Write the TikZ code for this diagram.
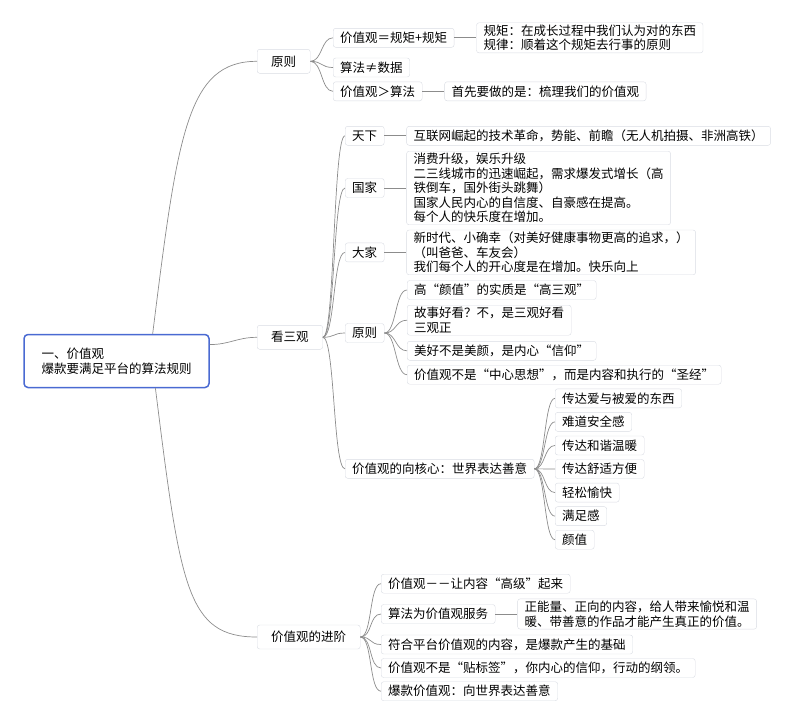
\documentclass[tikz,border=0pt]{standalone}
\usepackage{fontspec}
\usepackage{tikz}
\usetikzlibrary{positioning}
\newfontfamily\cjk{Noto Sans CJK SC}
\definecolor{boxgray}{HTML}{D9DCE3}
\definecolor{rootblue}{HTML}{4A6AD2}
\definecolor{linegray}{HTML}{8C8C8C}
\tikzset{
  topic/.style={draw=boxgray,fill=white,rounded corners=2.5pt,
    font=\cjk\fontsize{12.5}{14.5}\selectfont,
    inner xsep=7pt,inner ysep=2pt,minimum height=19pt,anchor=west},
  maintopic/.style={topic,inner xsep=14pt,minimum height=24pt},
  note/.style={topic,align=left},
  central/.style={topic,draw=rootblue,line width=1.5pt,rounded corners=4pt,
    align=left,minimum width=185pt,minimum height=53pt,anchor=center},
  branch/.style={draw=linegray,line width=0.7pt},
  fan/.style={to path={.. controls +(#1,0) and +(-#1,0) .. (\tikztotarget)}},
  fan/.default=12
}

\begin{document}
\begin{tikzpicture}[x=1pt,y=-1pt,node distance=22pt]
  \useasboundingbox (0,0) rectangle (800,721);
  \node[central] (root) at (116.5,361) {一、价值观\\爆款要满足平台的算法规则};
  \node[maintopic] (yz)  at (257,61.3) {原则};
  \node[maintopic] (ksg) at (257,337.3) {看三观};
  \node[maintopic] (jj)  at (257,637) {价值观的进阶};

  \node[topic] (a1) at (333,37.8) {价值观＝规矩+规矩};
  \node[topic] (a2) at (333,67.5) {算法≠数据};
  \node[topic] (a3) at (333,91.3) {价值观＞算法};
  \node[note] (a1n) [right=of a1] {规矩：在成长过程中我们认为对的东西\\规律：顺着这个规矩去行事的原则};
  \node[note] (a3n) [right=of a3] {首先要做的是：梳理我们的价值观};

  \node[topic] (b1) at (345,135.8) {天下};
  \node[topic] (b2) at (345,188) {国家};
  \node[topic] (b3) at (345,252.4) {大家};
  \node[topic] (b4) at (345,333) {原则};
  \node[topic] (b5) at (345,468.8) {价值观的向核心：世界表达善意};
  \node[note] (b1n) [right=of b1] {互联网崛起的技术革命，势能、前瞻（无人机拍摄、非洲高铁）};
  \node[note] (b2n) [right=of b2] {消费升级，娱乐升级\\二三线城市的迅速崛起，需求爆发式增长（高\\铁倒车，国外街头跳舞）\\国家人民内心的自信度、自豪感在提高。\\每个人的快乐度在增加。};
  \node[note] (b3n) [right=of b3] {新时代、小确幸（对美好健康事物更高的追求，）\\（叫爸爸、车友会）\\我们每个人的开心度是在增加。快乐向上};

  \node[topic] (c1) at (407,290) {高“颜值”的实质是“高三观”};
  \node[note]  (c2) at (407,320.2) {故事好看？不，是三观好看\\三观正};
  \node[topic] (c3) at (407,350.8) {美好不是美颜，是内心“信仰”};
  \node[topic] (c4) at (407,374.7) {价值观不是“中心思想”，而是内容和执行的“圣经”};

  \foreach \txt [count=\i] in {传达爱与被爱的东西,难道安全感,传达和谐温暖,传达舒适方便,轻松愉快,满足感,颜值}
    \node[topic] (d\i) at (555,{398.3+23.57*(\i-1)}) {\txt};

  \node[topic] (e1) at (381,583.7) {价值观－－让内容“高级”起来};
  \node[topic] (e2) at (381,614) {算法为价值观服务};
  \node[topic] (e3) at (381,644.5) {符合平台价值观的内容，是爆款产生的基础};
  \node[topic] (e4) at (381,668) {价值观不是“贴标签”，你内心的信仰，行动的纲领。};
  \node[topic] (e5) at (381,691.2) {爆款价值观：向世界表达善意};
  \node[note] (e2n) [right=of e2] {正能量、正向的内容，给人带来愉悦和温\\暖、带善意的作品才能产生真正的价值。};

  \draw[branch] (root.37) .. controls +(25,-200) and +(-70,0) .. (yz.west);
  \draw[branch] (root.-35) .. controls +(25,200) and +(-70,0) .. (jj.west);
  \path[branch]
    (root.10) edge[fan=20] (ksg.west)
    (yz.east) edge[fan] (a1.west)
    (yz.east) edge[fan] (a2.west)
    (yz.east) edge[fan] (a3.west)
    (a1) edge (a1n)
    (a3) edge (a3n)
    (ksg.east) edge[fan] (b1.west)
    (ksg.east) edge[fan] (b2.west)
    (ksg.east) edge[fan] (b3.west)
    (ksg.east) edge[fan] (b4.west)
    (ksg.east) edge[fan] (b5.west)
    (b1) edge (b1n)
    (b2) edge (b2n)
    (b3) edge (b3n)
    (b4.east) edge[fan] (c1.west)
    (b4.east) edge[fan] (c2.west)
    (b4.east) edge[fan] (c3.west)
    (b4.east) edge[fan] (c4.west)
    (e2) edge (e2n)
  ;
  \foreach \i in {1,...,7}
    \path[branch] (b5.east) edge[fan=11] (d\i.west);
  \foreach \i in {1,...,5}
    \path[branch] (jj.east) edge[fan] (e\i.west);
\end{tikzpicture}
\end{document}
